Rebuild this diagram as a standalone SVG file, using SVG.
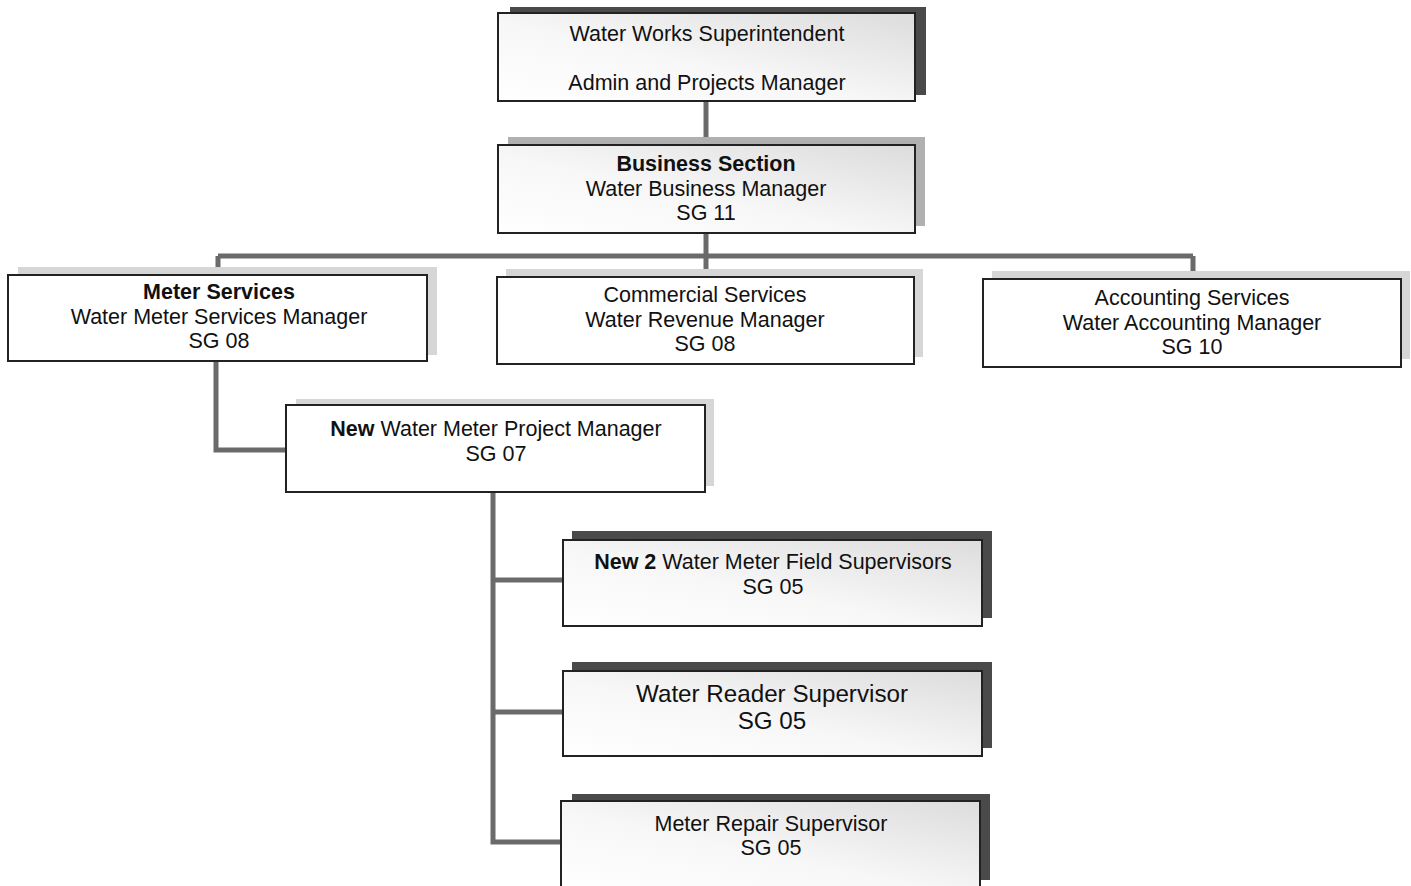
<svg xmlns="http://www.w3.org/2000/svg" width="1411" height="886" viewBox="0 0 1411 886">
<defs>
<linearGradient id="g" x1="0" y1="1" x2="1" y2="0">
<stop offset="0" stop-color="#ffffff"/>
<stop offset="0.45" stop-color="#f7f7f7"/>
<stop offset="1" stop-color="#dcdcdc"/>
</linearGradient>
</defs>
<style>
text{font-family:"Liberation Sans",Arial,sans-serif;font-size:21.5px;fill:#111;text-anchor:middle}
.b{font-weight:bold}
.big{font-size:24.2px}
.box{stroke:#222;stroke-width:2}
.gf{fill:url(#g)}
.wf{fill:#fff}
.sd{fill:#4a4a4a}
.sl{fill:#b0b0b0}
.sx{fill:#d6d6d6}
.c{stroke:#6a6a6a;stroke-width:5;fill:none}
</style>
<rect width="1411" height="886" fill="#fff"/>
<g id="connectors">
<path class="c" d="M706 101V145"/>
<path class="c" d="M706 233V270"/>
<path class="c" d="M218 256H1193"/>
<path class="c" d="M218 256V276M1193 256V280"/>
<path class="c" d="M216 361V450H287"/>
<path class="c" d="M493 492V842H562"/>
<path class="c" d="M493 580H564M493 712H564"/>
</g>
<g id="superintendent">
<rect class="sd" x="510" y="7" width="416" height="88"/>
<rect class="box gf" x="498" y="13" width="417" height="88"/>
<text x="707" y="41">Water Works Superintendent</text>
<text x="707" y="90">Admin and Projects Manager</text>
</g>
<g id="business">
<rect class="sl" x="508" y="137" width="417" height="89"/>
<rect class="box gf" x="498" y="145" width="417" height="88"/>
<text x="706" y="171" class="b">Business Section</text>
<text x="706" y="196">Water Business Manager</text>
<text x="706" y="220">SG 11</text>
</g>
<g id="meter-services">
<rect class="sx" x="18" y="267" width="419" height="88"/>
<rect class="box wf" x="8" y="275" width="419" height="86"/>
<text x="219" y="299" class="b">Meter Services</text>
<text x="219" y="324">Water Meter Services Manager</text>
<text x="219" y="348">SG 08</text>
</g>
<g id="commercial">
<rect class="sx" x="506" y="269" width="417" height="88"/>
<rect class="box wf" x="497" y="277" width="417" height="87"/>
<text x="705" y="302">Commercial Services</text>
<text x="705" y="327">Water Revenue Manager</text>
<text x="705" y="351">SG 08</text>
</g>
<g id="accounting">
<rect class="sx" x="992" y="271" width="418" height="88"/>
<rect class="box wf" x="983" y="279" width="418" height="88"/>
<text x="1192" y="305">Accounting Services</text>
<text x="1192" y="330">Water Accounting Manager</text>
<text x="1192" y="354">SG 10</text>
</g>
<g id="project-manager">
<rect class="sx" x="296" y="399" width="418" height="87"/>
<rect class="box wf" x="286" y="405" width="419" height="87"/>
<text x="496" y="436"><tspan class="b">New</tspan> Water Meter Project Manager</text>
<text x="496" y="461">SG 07</text>
</g>
<g id="field-supervisors">
<rect class="sd" x="572" y="531" width="420" height="87"/>
<rect class="box gf" x="563" y="540" width="419" height="86"/>
<text x="773" y="569"><tspan class="b">New 2</tspan> Water Meter Field Supervisors</text>
<text x="773" y="594">SG 05</text>
</g>
<g id="reader-supervisor">
<rect class="sd" x="572" y="662" width="420" height="86"/>
<rect class="box gf" x="563" y="671" width="419" height="85"/>
<text x="772" y="702" class="big">Water Reader Supervisor</text>
<text x="772" y="729" class="big">SG 05</text>
</g>
<g id="repair-supervisor">
<rect class="sd" x="572" y="794" width="418" height="86"/>
<rect class="box gf" x="561" y="801" width="419" height="90"/>
<text x="771" y="831">Meter Repair Supervisor</text>
<text x="771" y="855">SG 05</text>
</g>
</svg>
